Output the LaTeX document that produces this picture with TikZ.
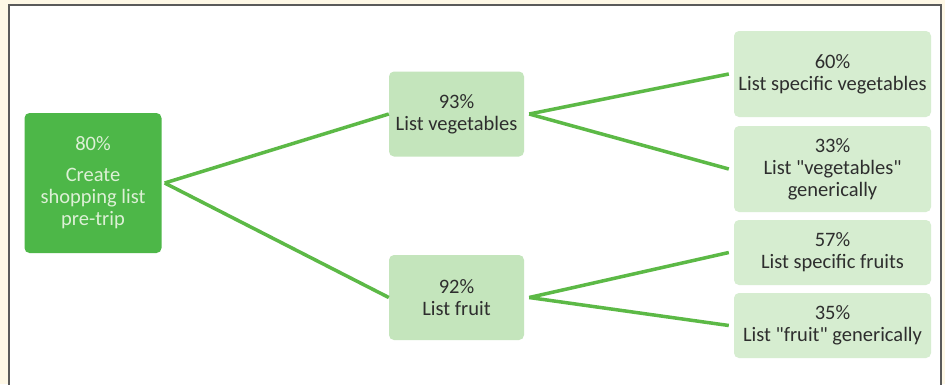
\documentclass[tikz,border=0pt]{standalone}
\usepackage{fontspec}
\setmainfont{Carlito}[Ligatures=TeXOff]
\definecolor{cream}{HTML}{FEF8E6}
\definecolor{frame}{HTML}{5A5A5A}
\definecolor{rootgreen}{HTML}{4DB748}
\definecolor{roottext}{HTML}{DDF0D6}
\definecolor{midgreen}{HTML}{C4E5BC}
\definecolor{leafgreen}{HTML}{D6EDD0}
\definecolor{linkgreen}{HTML}{5CB946}
\definecolor{ink}{HTML}{2E2E2E}
\begin{document}
\begin{tikzpicture}[x=1pt,y=-1pt,
    box/.style={rectangle,rounded corners=5pt,align=center,inner sep=0pt,
      font=\fontsize{20.5}{22}\selectfont,text=ink},
    rootbox/.style={box,fill=rootgreen,text=roottext,minimum width=137pt,minimum height=140pt},
    midbox/.style={box,fill=midgreen,minimum width=135pt,minimum height=85pt},
    leafbox/.style={box,fill=leafgreen,minimum width=197pt},
    link/.style={draw=linkgreen,line width=3.5pt}]
  \useasboundingbox (0,0) rectangle (945,384);
  \fill[cream] (0,0) rectangle (945,384);
  \draw[frame,fill=white,line width=2pt] (9,395) -- (9,5) -- (941,5) -- (941,395);
  \draw
    (93,183) node[rootbox] (root){80\%\\[9pt]Create\\shopping list\\pre-trip}
    (456.5,114) node[midbox] (veg){93\%\\List vegetables}
    (456.5,297.5) node[midbox] (fruit){92\%\\List fruit}
    (832.5,74) node[leafbox,minimum height=86pt] (vegspec){60\%\\List specific vegetables}
    (832.5,169) node[leafbox,minimum height=86pt] (veggen){33\%\\List "vegetables"\\generically}
    (832.5,252.5) node[leafbox,minimum height=65pt] (fruitspec){57\%\\List specific fruits}
    (832.5,325.5) node[leafbox,minimum height=65pt] (fruitgen){35\%\\List "fruit" generically};
  \begin{scope}[link]
    \draw ([xshift=3pt]root.east) to (veg.west);
    \draw ([xshift=3pt]root.east) to (fruit.west);
    \draw ([xshift=5pt]veg.east) to ([xshift=-5pt]vegspec.west);
    \draw ([xshift=5pt]veg.east) to ([xshift=-5pt]veggen.west);
    \draw ([xshift=5pt]fruit.east) to ([xshift=-5pt]fruitspec.west);
    \draw ([xshift=5pt]fruit.east) to ([xshift=-5pt]fruitgen.west);
  \end{scope}
\end{tikzpicture}
\end{document}
